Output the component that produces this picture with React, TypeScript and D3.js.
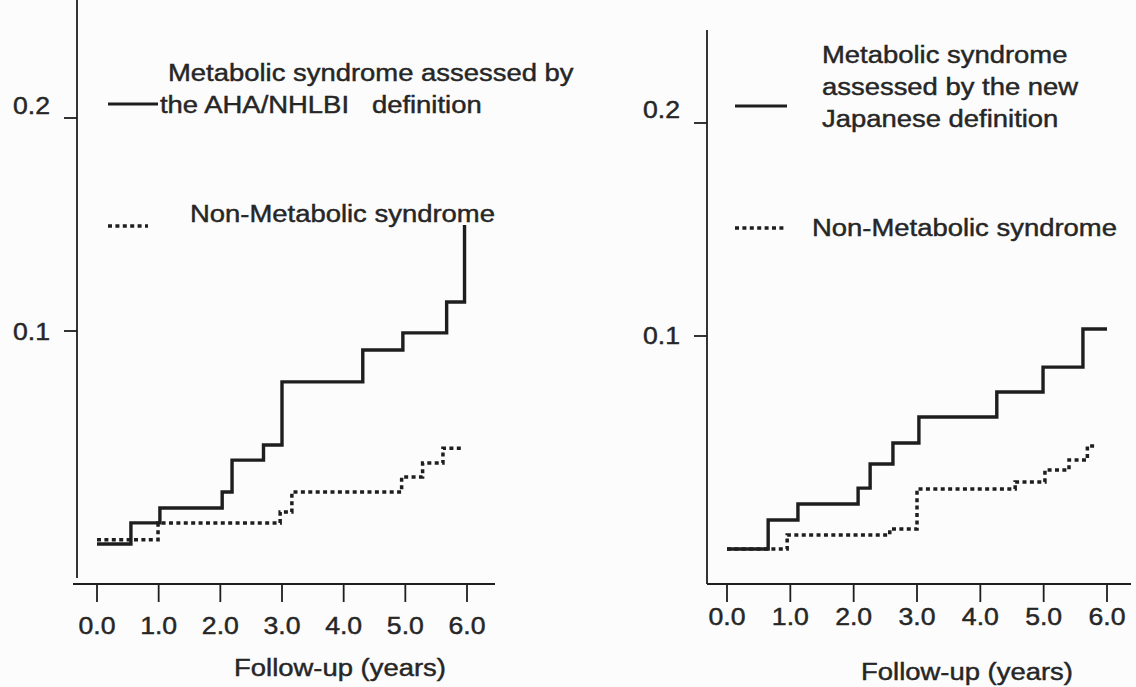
import React from 'react';
import * as d3 from 'd3';

// follow-up years on the x axis
const xTicks = [0, 1, 2, 3, 4, 5, 6];
const yTicks = [0.1, 0.2];

// left panel: AHA/NHLBI definition — [time (years), cumulative incidence]
const ahaMetS = [[0, 0], [0.55, 0.0099], [1.02, 0.0169], [2.03, 0.0244], [2.19, 0.0394], [2.7, 0.0465], [3.0, 0.0761], [4.31, 0.0911], [4.96, 0.0991], [5.67, 0.1136], [5.96, 0.1498]];
const ahaMetSEnd = 5.96;
const ahaNonMetS = [[0, 0.002], [0.99, 0.0099], [2.97, 0.015], [3.16, 0.0244], [4.94, 0.0315], [5.28, 0.038], [5.61, 0.045]];
const ahaNonMetSEnd = 5.93;

// right panel: new Japanese definition
const jpMetS = [[0, 0], [0.65, 0.0136], [1.12, 0.0211], [2.07, 0.0286], [2.26, 0.0399], [2.62, 0.0498], [3.03, 0.062], [4.26, 0.0737], [4.99, 0.0854], [5.62, 0.1033]];
const jpMetSEnd = 6.0;
const jpNonMetS = [[0, 0], [0.95, 0.0066], [2.57, 0.0094], [3.0, 0.0282], [4.55, 0.0315], [5.02, 0.0371], [5.4, 0.0418], [5.69, 0.0484]];
const jpNonMetSEnd = 5.83;

const leftLegend = ['Metabolic syndrome assessed by', 'the AHA/NHLBI   definition'];
const rightLegend = ['Metabolic syndrome', 'assessed by the new', 'Japanese definition'];
const nonLabel = 'Non-Metabolic syndrome';
const xTitle = 'Follow-up (years)';

const FONT = '"Liberation Sans", Arial, Helvetica, sans-serif';
const INK = '#1e1e1e';
const TEXT = '#262626';
const DOTS = '4 3.4';
const SX = 1.12; // the scan is a bit wider than tall

const Label = ({ x, y, anchor = 'start', size = 24.5, children }) => (
    <text transform={`translate(${x},${y}) scale(${SX},1)`} textAnchor={anchor}
        fontSize={size} fill={TEXT} stroke={TEXT} strokeWidth={0.45}
        style={{ whiteSpace: 'pre' }}>{children}</text>
);

const Panel = ({ p }) => {
    const x = d3.scaleLinear().domain([0, 6]).range([p.x0, p.x6]);
    const y = d3.scaleLinear().domain([0, 0.2]).range([p.yZero, p.yTop]);
    const line = d3.line().curve(d3.curveStepAfter).x(d => x(d[0])).y(d => y(d[1]));
    const withEnd = (s, end) => [...s, [end, s[s.length - 1][1]]];

    return (
        <g fontFamily={FONT}>
            {/* axes */}
            <line x1={p.axisX} x2={p.axisX} y1={p.axisTop} y2={p.axisBottom} stroke={INK} strokeWidth={1.8} />
            <line x1={p.xAxisStart} x2={p.xAxisEnd} y1={p.xAxisY} y2={p.xAxisY} stroke={INK} strokeWidth={1.8} />
            {xTicks.map(t => (
                <g key={t}>
                    <line x1={x(t)} x2={x(t)} y1={p.xAxisY} y2={p.xAxisY + 18} stroke={INK} strokeWidth={1.8} />
                    <Label x={x(t)} y={p.tickBase} anchor="middle" size={23.8}>{d3.format('.1f')(t)}</Label>
                </g>
            ))}
            {yTicks.map(t => (
                <g key={t}>
                    <line x1={p.axisX - 13} x2={p.axisX} y1={y(t)} y2={y(t)} stroke={INK} strokeWidth={1.8} />
                    <Label x={p.axisX - 27} y={y(t) + p.yLabelDy[t]} anchor="end" size={23.8}>{String(t)}</Label>
                </g>
            ))}
            <Label x={p.titleX} y={p.titleBase} anchor="middle">{xTitle}</Label>

            {/* curves */}
            <path d={line(withEnd(p.non, p.nonEnd))} fill="none" stroke={INK} strokeWidth={3.5} strokeDasharray={DOTS} />
            <path d={line(withEnd(p.met, p.metEnd))} fill="none" stroke={INK} strokeWidth={3.4} />

            {/* legend */}
            <line x1={p.legX1} x2={p.legX2} y1={p.legSolidY} y2={p.legSolidY} stroke={INK} strokeWidth={3} />
            {p.legend.map((s, i) => (
                <Label key={i} x={p.legTextX[i]} y={p.legBase + i * p.legStep}>{s}</Label>
            ))}
            <line x1={p.legX1} x2={p.legDotX2} y1={p.legDotY} y2={p.legDotY} stroke={INK} strokeWidth={3.5} strokeDasharray={DOTS} />
            <Label x={p.nonTextX} y={p.nonBase}>{nonLabel}</Label>
        </g>
    );
};

const left = {
    x0: 97, x6: 467, yZero: 544, yTop: 118,
    axisX: 77, axisTop: 0, axisBottom: 578,
    xAxisY: 584, xAxisStart: 73, xAxisEnd: 495,
    tickBase: 634, titleX: 340, titleBase: 676,
    yLabelDy: { 0.1: 9, 0.2: -4 },
    met: ahaMetS, metEnd: ahaMetSEnd, non: ahaNonMetS, nonEnd: ahaNonMetSEnd,
    legend: leftLegend, legTextX: [168, 160], legBase: 81, legStep: 32,
    legX1: 108, legX2: 158, legSolidY: 104, legDotX2: 148, legDotY: 226,
    nonTextX: 190, nonBase: 222,
};

const right = {
    x0: 727, x6: 1107, yZero: 549, yTop: 123,
    axisX: 707, axisTop: 30, axisBottom: 584,
    xAxisY: 584, xAxisStart: 707, xAxisEnd: 1131,
    tickBase: 625, titleX: 967, titleBase: 680,
    yLabelDy: { 0.1: 8, 0.2: -5 },
    met: jpMetS, metEnd: jpMetSEnd, non: jpNonMetS, nonEnd: jpNonMetSEnd,
    legend: rightLegend, legTextX: [822, 822, 822], legBase: 63, legStep: 32,
    legX1: 735, legX2: 787, legSolidY: 106, legDotX2: 784, legDotY: 228,
    nonTextX: 812, nonBase: 236,
};

export default function App() {
    return (
        <svg width={1136} height={687} style={{ position: 'absolute', left: 0, top: 0, background: '#fcfcfc' }}>
            <Panel p={left} />
            <Panel p={right} />
        </svg>
    );
}
